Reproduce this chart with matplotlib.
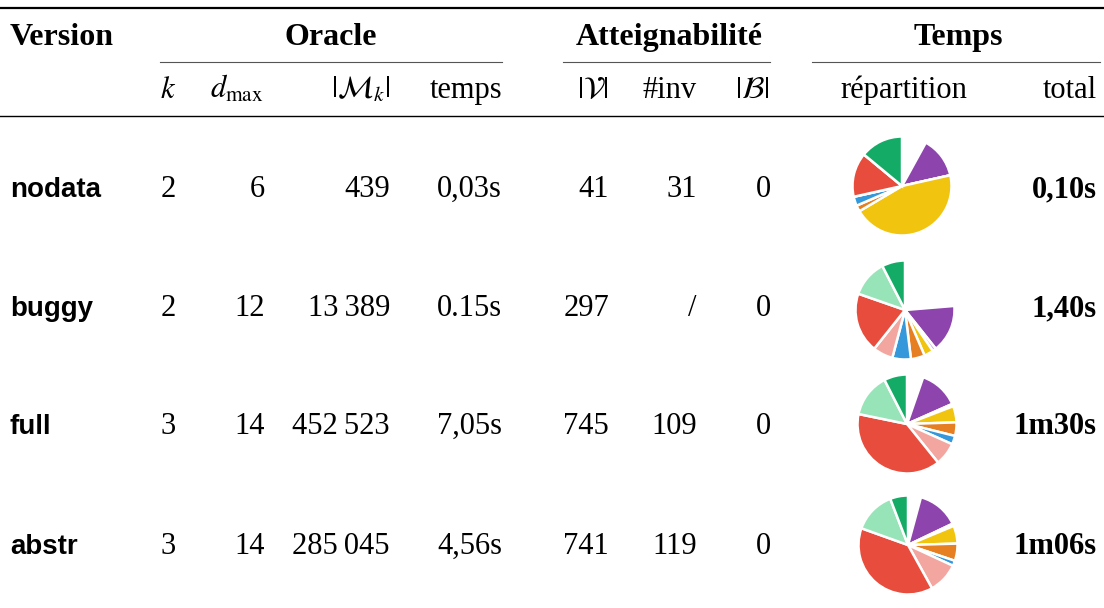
import numpy as np
import matplotlib.pyplot as plt

plt.rcParams['font.family'] = ['Liberation Serif', 'DejaVu Serif']
plt.rcParams['mathtext.fontset'] = 'stix'

# donnees du tableau
versions = ['nodata', 'buggy', 'full', 'abstr']
k_vals = ['2', '2', '3', '3']
dmax_vals = ['6', '12', '14', '14']
mk_vals = ['439', '13\u2009389', '452\u2009523', '285\u2009045']
oracle_time = ['0,03s', '0.15s', '7,05s', '4,56s']
v_vals = ['41', '297', '745', '741']
inv_vals = ['31', '/', '109', '119']
b_vals = ['0', '0', '0', '0']
total_time = ['0,10s', '1,40s', '1m30s', '1m06s']

# repartition du temps (sens horaire depuis midi), en %
part_colors = ['white', '#8e44ad', '#cdaee0', '#f1c40f', '#e67e22', '#3498db',
               '#f3a69f', '#e74c3c', '#98e4b9', '#14ab66']
rep_nodata = [8, 13.5, 0, 45, 2, 3, 0, 14.5, 0, 14]
rep_buggy = [23.5, 15.5, 1.2, 3, 4.5, 6, 6.5, 19.5, 12, 7.5]
rep_full = [5.3, 13, 0.8, 5.3, 4.4, 2.8, 7.5, 38.9, 14.2, 7.5]
rep_abstr = [4.2, 13.6, 0.8, 5.8, 5.6, 1.7, 10, 38.3, 13.6, 5.8]
repartitions = [rep_nodata, rep_buggy, rep_full, rep_abstr]

W, H = 1104, 608
fig = plt.figure(figsize=(W / 100, H / 100), dpi=100)
ax = fig.add_axes([0, 0, 1, 1])
ax.set_xlim(0, W)
ax.set_ylim(H, 0)
ax.axis('off')

fs = 22
row_y = [197, 316, 434, 554]
pie_c = [(902, 186), (905, 310), (907, 424), (908, 545)]

# regles
ax.plot([0, W], [7.5, 7.5], color='black', lw=1.6)
ax.plot([0, W], [116, 116], color='black', lw=1.0)
for x0, x1 in [(160, 502), (563, 770), (812, 1100)]:
    ax.plot([x0, x1], [62, 62], color='#555555', lw=0.8)

# en-tetes
ax.text(10, 45, 'Version', fontsize=fs + 1, fontweight='bold')
ax.text(331, 45, 'Oracle', fontsize=fs + 1, fontweight='bold', ha='center')
ax.text(669, 45, 'Atteignabilité', fontsize=fs + 1, fontweight='bold', ha='center')
ax.text(958, 45, 'Temps', fontsize=fs + 1, fontweight='bold', ha='center')

ax.text(168, 98, '$k$', fontsize=fs, ha='center')
ax.text(237, 98, r'$d_{\mathrm{max}}$', fontsize=fs, ha='center')
ax.text(390, 98, r'$|\mathcal{M}_k|$', fontsize=fs, ha='right')
ax.text(502, 98, 'temps', fontsize=fs, ha='right')
ax.text(609, 98, r'$|\mathcal{V}|$', fontsize=fs, ha='right')
ax.text(697, 98, '#inv', fontsize=fs, ha='right')
ax.text(752, 98, r'$|\mathcal{B}|$', fontsize=fs, ha='center')
ax.text(904, 98, 'répartition', fontsize=fs, ha='center')
ax.text(1097, 98, 'total', fontsize=fs, ha='right')

# lignes
for i, y in enumerate(row_y):
    ax.text(10, y, versions[i], fontsize=fs - 2, fontweight='bold',
            family=['Liberation Sans', 'DejaVu Sans'])
    ax.text(168, y, k_vals[i], fontsize=fs, ha='center')
    ax.text(265, y, dmax_vals[i], fontsize=fs, ha='right')
    ax.text(390, y, mk_vals[i], fontsize=fs, ha='right')
    ax.text(502, y, oracle_time[i], fontsize=fs, ha='right')
    ax.text(609, y, v_vals[i], fontsize=fs, ha='right')
    if inv_vals[i] == '/':
        ax.text(692, y, inv_vals[i], fontsize=fs, ha='center')
    else:
        ax.text(697, y, inv_vals[i], fontsize=fs, ha='right')
    ax.text(763, y, b_vals[i], fontsize=fs, ha='center')
    ax.text(1097, y, total_time[i], fontsize=fs, ha='right', fontweight='bold')

# camemberts
for (cx, cy), rep in zip(pie_c, repartitions):
    s = 110
    pax = fig.add_axes([(cx - s / 2) / W, 1 - (cy + s / 2) / H, s / W, s / H])
    pax.pie(rep, colors=part_colors, startangle=90, counterclock=False,
            radius=0.9, wedgeprops=dict(edgecolor='white', linewidth=1.8))
    pax.set_xlim(-1, 1)
    pax.set_ylim(-1, 1)
    pax.set_aspect('equal')
    pax.axis('off')

fig.savefig('out.png', dpi=100)
